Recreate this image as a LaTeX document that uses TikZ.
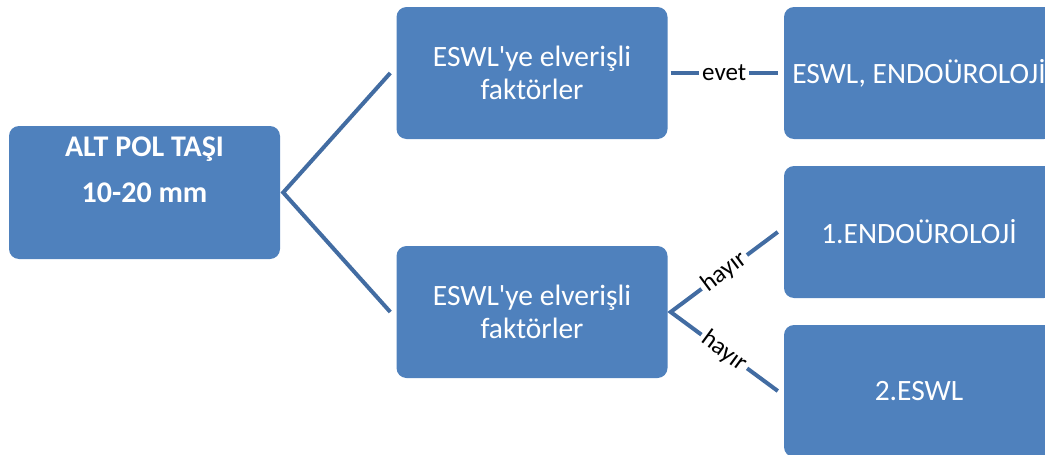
\documentclass[tikz,border=0pt]{standalone}
\usepackage{fontspec}
\setmainfont{Carlito}[Ligatures=TeXOff]
\definecolor{boxfill}{HTML}{4F81BD}
\definecolor{linec}{RGB}{66,108,162}
\begin{document}
\begin{tikzpicture}[x=1pt,y=-1pt,
  box/.style={fill=boxfill, rounded corners=10pt, minimum width=271pt, minimum height=132pt,
    text=white, align=center, inner sep=0pt, font=\fontsize{29.5}{33}\selectfont},
  conn/.style={draw=linec, line width=4pt},
  lab/.style={fill=white, text=black, inner xsep=3pt, inner ysep=1pt, font=\fontsize{25}{28}\selectfont}]
\clip (0,0) rectangle (1045,455);
\useasboundingbox (0,0) rectangle (1045,455);
\node[box, minimum height=133pt, font=\bfseries\fontsize{30}{46}\selectfont] (root) at (144.5,192.5) {ALT POL TAŞI\\10-20 mm\\\mbox{}};
\node[box] (top) at (532,73) {ESWL'ye elverişli\\faktörler};
\node[box] (bot) at (532,312) {ESWL'ye elverişli\\faktörler};
\node[box, minimum width=270pt] (r1) at (919,73) {ESWL, ENDOÜROLOJİ};
\node[box, minimum width=270pt] (r2) at (919,232) {1.ENDOÜROLOJİ};
\node[box, minimum width=270pt] (r3) at (919,391) {2.ESWL};
\draw[conn] ([xshift=-6pt]top.west) -- ([xshift=3pt]root.east) -- ([xshift=-6pt]bot.west);
\draw[conn] ([xshift=3pt]top.east) -- node[lab]{evet} ([xshift=-6pt]r1.west);
\draw[conn] ([xshift=-6pt]r2.west) -- node[lab,sloped]{hayır} ([xshift=3pt]bot.east) -- node[lab,sloped]{hayır} ([xshift=-6pt]r3.west);
\end{tikzpicture}
\end{document}
